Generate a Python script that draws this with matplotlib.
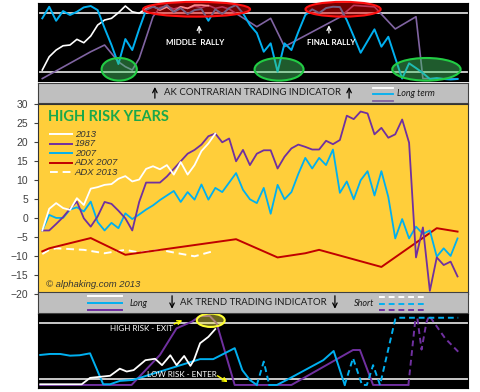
import numpy as np
import matplotlib.pyplot as plt
from matplotlib.patches import Ellipse

# x positions are trading-week index numbers, shared by all three panels
weeks = np.arange(61)

# main chart: % change for each year
y2013 = [-3.2, 2.5, 4.0, 2.7, 2.2, 5.3, 3.5, 7.8, 8.2, 8.8, 9.0, 10.4, 11.1,
         9.7, 10.2, 13.0, 13.7, 12.9, 14.0, 11.5, 14.8, 11.5, 14.0, 17.7,
         19.7, 22.3]
y1987 = [-3.2, -3.2, -1.5, 0.3, 2.5, 4.4, 0.0, -2.2, 0.5, 4.3, 3.8, 2.0, 0.0,
         -3.2, 4.3, 9.4, 9.4, 9.4, 11.0, 13.0, 15.0, 17.0, 18.0, 19.4, 21.6,
         22.3, 20.0, 21.0, 15.0, 18.0, 14.0, 17.0, 17.9, 17.9, 13.1, 16.2,
         18.4, 19.4, 18.8, 18.1, 18.1, 20.4, 19.5, 20.6, 27.0, 26.1, 28.1,
         27.6, 22.1, 23.8, 21.2, 22.1, 26.0, 19.9, -10.3, -2.4, -19.1, -10.3,
         -12.3, -11.4, -15.3]
y2007 = [-3.2, 0.9, 0.1, 0.1, 2.3, 2.9, 1.8, 4.4, -1.0, -3.2, -1.2, -2.6, 1.3,
         -0.2, 1.0, 2.3, 3.4, 4.8, 6.0, 7.2, 4.3, 6.9, 4.9, 8.9, 4.9, 8.0, 6.9,
         9.4, 11.9, 7.5, 5.0, 4.0, 8.0, 1.2, 8.8, 5.0, 6.9, 11.7, 15.9, 13.1,
         15.9, 14.0, 18.1, 6.7, 9.7, 5.0, 10.0, 12.4, 6.0, 12.4, 5.6, -5.3,
         -0.2, -5.3, -2.2, -4.1, -3.2, -10.1, -7.9, -9.9, -5.3]
adx07_x = [0, 1, 7, 12, 28, 34, 38, 40, 49, 57, 60]
adx07 = [-8.7, -7.9, -5.2, -9.6, -5.5, -10.3, -9.2, -8.3, -12.8, -2.6, -3.5]
adx13_x = [0, 1, 2, 6, 9, 12, 14, 17, 19, 22, 25]
adx13 = [-9.4, -8.3, -7.9, -8.3, -9.2, -8.3, -9.0, -8.3, -9.0, -10.0, -8.5]

# top panel: contrarian oscillator (bands at 10 and 90)
top_cyan = [82.4, 98.1, 79.1, 92.3, 86.9, 91.3, 97.3, 99.1, 93.6, 69.2, 46.2,
            20.4, 54.3, 39.4, 68.0, 94.0, 98.1, 95.0, 100.4, 90.9, 96.3, 88.2,
            93.6, 95.0, 79.1, 94.6, 88.2, 96.3, 100.4, 89.2, 73.3, 62.5, 37.1,
            48.5, 10.0, 48.5, 39.4, 64.2, 86.9, 94.6, 89.6, 96.3, 98.1, 97.7,
            80.0, 58.0, 35.7, 51.6, 67.5, 43.9, 57.4, 28.6, 0.7, 21.4, 15.0,
            8.2, 0.1, 1.4, 0.1, -0.6, 0.1]
top_white = [12.3, 30.3, 39.4, 45.2, 46.2, 53.9, 49.3, 58.4, 73.3, 80.1, 82.4,
             90.0, 99.1, 91.3, 89.2, 95.9, 99.1, 93.6, 97.7, 91.3, 98.1, 95.9,
             100.4, 100.4, 99.5]
top_purple_x = [0, 7, 9, 11, 12, 13, 14, 15, 16, 17, 18, 19, 20, 21, 22, 23,
                24, 25, 26, 27, 28, 31, 33, 35, 43, 45, 48, 51, 54, 55, 60]
top_purple = [0.7, 37.1, 46.2, 23.5, 16.8, 12.3, 28.0, 56.0, 84.6, 97.0, 99.0,
              95.0, 98.0, 96.0, 99.0, 97.0, 100.0, 96.0, 98.0, 95.0, 89.0,
              71.0, 82.4, 44.0, 84.0, 100.0, 98.0, 68.0, 84.6, 0.7, 0.5]

# bottom panel: trend indicator, solid = long, dashed = short
bot_white_x = [-0.3, 5.7, 6.9, 9.8, 11.2, 12.2, 13.2, 14.9, 16.3, 17.3, 18.5,
               19.4, 20.5, 21.4, 21.9, 22.8, 24.0, 25.0]
bot_white = [3, 3, 12, 15, 25, 21, 23, 37, 39, 30, 44, 30, 43, 29, 37, 61, 70,
             81]
bot_cyan_x = [-0.3, 1.1, 2.6, 4.0, 5.4, 6.9, 8.8, 9.8, 11.2, 13.1, 22.8, 24.7,
              27.8, 28.9, 30.0, 31.0]
bot_cyan = [44.4, 45.8, 45.8, 43.4, 44.0, 46.7, 3, 3, 7.7, 9.1, 38.5, 38.5,
            54.0, 23.0, 9.0, 2.0]
bot_cyan2_x = [32.8, 33.9, 35.3, 40.6, 42.1, 43.7]
bot_cyan2 = [2, 2, 9, 37, 50, 2]
bot_cyan_s1_x = [31.0, 32.0, 32.8]
bot_cyan_s1 = [2, 35, 2]
bot_cyan_s2_x = [43.7, 44.9, 46.2, 46.9, 47.8, 48.8, 51.0, 51.4, 60.1]
bot_cyan_s2 = [2, 40, 2, 2, 30, 2, 95, 97, 97]
bot_purple_x = [-0.3, 12.9, 17.0, 19.4, 21.6, 22.8, 24.2, 25.2, 27.8, 36.0,
                44.9, 45.9, 47.8, 52.9]
bot_purple = [2, 2, 44.4, 82, 91.4, 99.5, 99.5, 89, 2, 2, 51.4, 51.4, 2, 2]
bot_purple_s_x = [52.9, 53.9, 54.2, 54.8, 55.5, 55.9, 58.2, 60.1]
bot_purple_s = [2, 94, 96, 52, 90, 100, 68, 49]

YELLOW = '#FFCE3A'
PURPLE = '#7030A0'
LAVENDER = '#8064A2'
CYAN = '#00B0F0'
RED = '#C00000'
GREY = '#BFBFBF'
XLIM = (-0.62, 61.47)
W, H = 480., 392.


def box(x0, y0, x1, y1):
    '''pixel rectangle (top-left origin) -> figure fraction rect'''
    return [x0/W, 1 - y1/H, (x1 - x0)/W, (y1 - y0)/H]


def blank(ax, face):
    ax.set_facecolor(face)
    ax.set_xticks([])
    ax.set_yticks([])


def band(ax, title, arrows, up):
    blank(ax, GREY)
    ax.set_xlim(0, 1)
    ax.set_ylim(0, 1)
    for s in ax.spines.values():
        s.set_color('#404040')
    ax.text(0.5, 0.5, title, ha='center', va='center', fontsize=6.9,
            family='Lato', color='#1a1a1a')
    for fx in arrows:
        y0, y1 = (0.08, 0.94) if up else (0.94, 0.08)
        ax.annotate('', xy=(fx, y1), xytext=(fx, y0),
                    arrowprops=dict(arrowstyle='->', color='black', lw=0.9,
                                    mutation_scale=8))


def oval(ax, xy, w, h, fc, ec):
    ax.add_patch(Ellipse(xy, w, h, transform=ax.transAxes, fc=fc, ec=ec,
                         lw=1.5, zorder=6, clip_on=False))


fig = plt.figure(figsize=(4.8, 3.92), dpi=100)

# ---- top panel ----
ax = fig.add_axes(box(38, 3, 467.7, 81))
blank(ax, 'black')
ax.set_xlim(*XLIM)
ax.set_ylim(-2.6, 103.2)
for lev in (90, 10):
    ax.axhline(lev, color='white', lw=1.1)
ax.plot(top_purple_x, top_purple, color=LAVENDER, lw=1.2)
ax.plot(weeks[:len(top_white)], top_white, color='white', lw=1.2)
ax.plot(weeks, top_cyan, color=CYAN, lw=1.4)
oval(ax, (0.369, 0.92), 0.249, 0.19, (1, 0, 0, 0.45), '#FF1010')
oval(ax, (0.71, 0.92), 0.175, 0.19, (1, 0, 0, 0.45), '#FF1010')
for fx, w in [(0.189, 0.082), (0.561, 0.114), (0.904, 0.159)]:
    oval(ax, (fx, 0.15), w, 0.29, (0.27, 0.8, 0.4, 0.45), '#22CC44')
for fx, ax_x, txt in [(0.365, 0.375, 'MIDDLE  RALLY'), (0.683, 0.677, 'FINAL RALLY')]:
    ax.text(fx, 0.49, txt, transform=ax.transAxes, ha='center', va='center',
            color='white', fontsize=5.8, family='Lato', weight='bold')
    ax.annotate('', xy=(ax_x, 0.75), xytext=(ax_x, 0.58),
                xycoords='axes fraction',
                arrowprops=dict(arrowstyle='->', color='white', lw=0.9,
                                mutation_scale=7))

# ---- contrarian band ----
ax = fig.add_axes(box(38, 83, 467.7, 102.5))
band(ax, 'AK CONTRARIAN TRADING INDICATOR', [0.272, 0.724], True)
for fy, c in [(0.74, 'white'), (0.44, CYAN), (0.10, LAVENDER)]:
    ax.plot([0.78, 0.826], [fy, fy], color=c, lw=1.3)
ax.text(0.835, 0.44, 'Long term', ha='left', va='center', fontsize=6.5,
        family='Lato', style='italic', color='#1a1a1a')

# ---- main chart ----
ax = fig.add_axes(box(38, 104.3, 467.7, 294.3))
ax.set_facecolor(YELLOW)
ax.set_xlim(*XLIM)
ax.set_ylim(-20, 30)
ax.set_xticks([])
ax.set_yticks(range(-20, 31, 5))
ax.tick_params(axis='y', labelsize=7.5, colors='#404040', length=3, pad=4)
for lbl in ax.get_yticklabels():
    lbl.set_family('Liberation Sans')
for s in ax.spines.values():
    s.set_color('#333333')
ax.plot(adx13_x, adx13, color='white', lw=1.4, ls=(0, (4, 2.5)))
ax.plot(adx07_x, adx07, color=RED, lw=1.4)
ax.plot(weeks, y2007, color=CYAN, lw=1.3)
ax.plot(weeks, y1987, color=PURPLE, lw=1.3)
ax.plot(weeks[:len(y2013)], y2013, color='white', lw=1.3)

leg = [('2013', 'white', '-'), ('1987', PURPLE, '-'), ('2007', CYAN, '-'),
       ('ADX 2007', RED, '-'), ('ADX 2013', 'white', (0, (4, 2.5)))]
for i, (lab, c, ls) in enumerate(leg):
    fy = 0.842 - i*0.05
    ax.plot([0.028, 0.079], [fy, fy], transform=ax.transAxes, color=c,
            lw=1.4, ls=ls)
    ax.text(0.086, fy, lab, transform=ax.transAxes, va='center', fontsize=6.8,
            family='Liberation Sans', style='italic', color='#333333')
ax.text(0.023, 0.935, 'HIGH RISK YEARS', transform=ax.transAxes, va='center',
        fontsize=10.5, family='Lato', weight='bold', color='#1AA84B')
ax.text(0.019, 0.05, '\u00a9 alphaking.com 2013', transform=ax.transAxes,
        va='center', fontsize=6.8, family='Liberation Sans', style='italic',
        color='#333333')

# ---- trend band (sits over the bottom of the main chart) ----
ax = fig.add_axes(box(38, 291.7, 467.7, 313.3))
ax.set_zorder(5)
band(ax, 'AK TREND TRADING INDICATOR', [0.312, 0.691], False)
for fy, c in [(0.80, 'white'), (0.46, CYAN), (0.15, PURPLE)]:
    ax.plot([0.116, 0.196], [fy, fy], color=c, lw=1.4)
for fy, c in [(0.76, 'white'), (0.44, CYAN), (0.13, PURPLE)]:
    ax.plot([0.794, 0.9], [fy, fy], color=c, lw=1.4, ls=(0, (3, 2)))
ax.text(0.214, 0.46, 'Long', va='center', fontsize=6.5, family='Lato',
        style='italic', color='#1a1a1a')
ax.text(0.735, 0.46, 'Short', va='center', fontsize=6.5, family='Lato',
        style='italic', color='#1a1a1a')

# ---- bottom panel ----
ax = fig.add_axes(box(38, 314, 467.7, 388))
blank(ax, 'black')
ax.set_xlim(*XLIM)
ax.set_ylim(-2.3, 102.3)
for lev in (90, 10):
    ax.axhline(lev, color='white', lw=1.1)
dash = (0, (3, 2))
ax.plot(bot_purple_x, bot_purple, color=PURPLE, lw=1.4)
ax.plot(bot_purple_s_x, bot_purple_s, color=PURPLE, lw=1.4, ls=dash)
ax.plot(bot_cyan_x, bot_cyan, color=CYAN, lw=1.4)
ax.plot(bot_cyan2_x, bot_cyan2, color=CYAN, lw=1.4)
ax.plot(bot_cyan_s1_x, bot_cyan_s1, color=CYAN, lw=1.4, ls=dash)
ax.plot(bot_cyan_s2_x, bot_cyan_s2, color=CYAN, lw=1.4, ls=dash)
ax.plot(bot_white_x, bot_white, color='white', lw=1.3)
oval(ax, (0.402, 0.915), 0.065, 0.18, (1, 0.95, 0.3, 0.42), '#FFFF33')
ax.text(0.24, 0.807, 'HIGH RISK - EXIT', transform=ax.transAxes, ha='center',
        va='center', color='white', fontsize=5.8, family='Lato')
ax.text(0.334, 0.185, 'LOW RISK - ENTER', transform=ax.transAxes,
        ha='center', va='center', color='white', fontsize=5.8, family='Lato')
arrow = dict(arrowstyle='->', color='#FFFF00', lw=1.0, mutation_scale=7)
ax.annotate('', xy=(0.342, 0.93), xytext=(0.311, 0.85),
            xycoords='axes fraction', arrowprops=arrow)
ax.annotate('', xy=(0.447, 0.06), xytext=(0.412, 0.185),
            xycoords='axes fraction', arrowprops=arrow)

plt.savefig('out.png', dpi=100)
